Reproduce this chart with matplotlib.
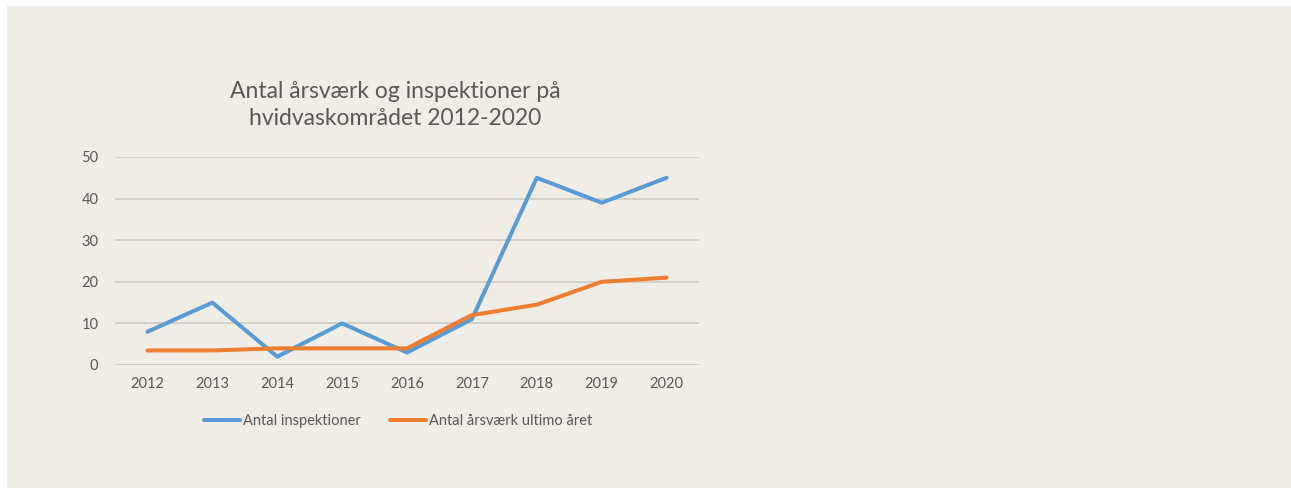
import numpy as np
import matplotlib.pyplot as plt
from matplotlib.patches import Rectangle

plt.rcParams['font.family'] = ['Lato', 'DejaVu Sans']

aar = ['2012', '2013', '2014', '2015', '2016', '2017', '2018', '2019', '2020']
inspektioner = [8, 15, 2, 10, 3, 11, 45, 39, 45]
aarsvaerk = [3.5, 3.5, 4, 4, 4, 12, 14.5, 20, 21]

baggrund = '#F0EDE6'
tekst = '#595959'

fig = plt.figure(figsize=(12.91, 4.88), dpi=100, facecolor='white')
fig.patches.append(Rectangle((7 / 1291, 0), 1 - 7 / 1291, 1 - 6 / 488,
                             transform=fig.transFigure, facecolor=baggrund,
                             edgecolor='none', zorder=-10))

ax = fig.add_axes([115 / 1291, 1 - 365 / 488, 584 / 1291, 208 / 488])
ax.set_facecolor('none')

x = np.arange(len(aar))
ax.plot(x, inspektioner, color='#5B9BD5', lw=2.9, solid_capstyle='round',
        label='Antal inspektioner', zorder=3)
ax.plot(x, aarsvaerk, color='#ED7D31', lw=2.9, solid_capstyle='round',
        label='Antal årsværk ultimo året', zorder=3)

ax.set_xlim(-0.5, len(aar) - 0.5)
ax.set_ylim(0, 50)
ax.set_yticks(range(0, 51, 10))
ax.set_xticks(x)
ax.set_xticklabels(aar)
ax.grid(axis='y', color='#D0CDC8', lw=1.3)
ax.set_axisbelow(True)
for s in ax.spines.values():
    s.set_visible(False)
ax.tick_params(length=0, colors=tekst, labelsize=10.5)
ax.tick_params(axis='y', pad=12)
ax.tick_params(axis='x', pad=9)

fig.text(395 / 1291, 1 - 105 / 488, 'Antal årsværk og inspektioner på\nhvidvaskområdet 2012-2020',
         ha='center', va='center', fontsize=16.5, color=tekst, linespacing=1.35)

fig.legend(loc='center', bbox_to_anchor=(398 / 1291, 1 - 421 / 488), ncol=2,
           frameon=False, fontsize=10.5, labelcolor=tekst, handlelength=2.5,
           handletextpad=0.2, columnspacing=2.0)

fig.savefig('out.png', dpi=100, facecolor='white')
